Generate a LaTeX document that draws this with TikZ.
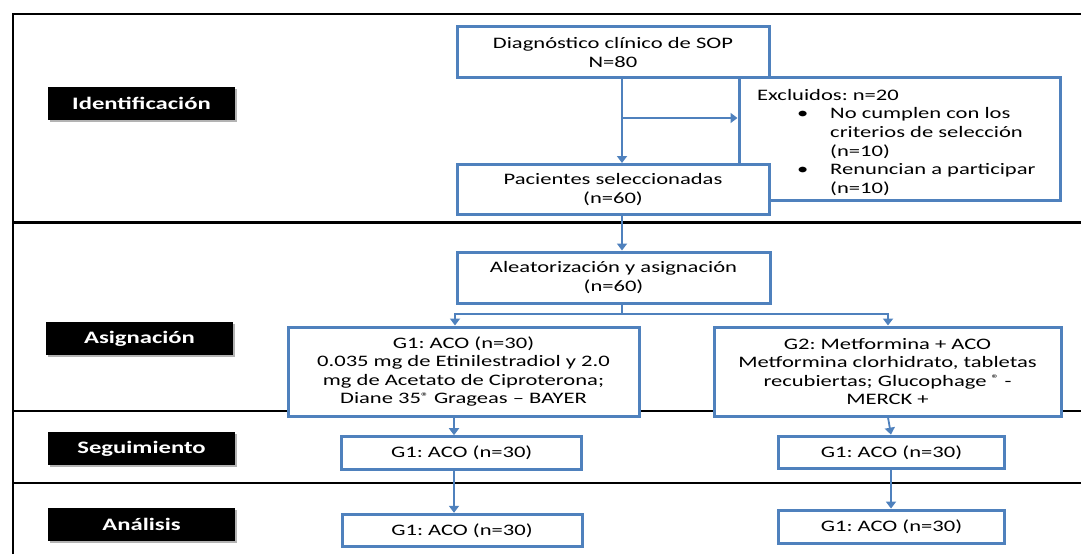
\documentclass[tikz,border=0pt]{standalone}
\usepackage{fontspec}
\setmainfont{Carlito}[FakeStretch=1.41]
\usetikzlibrary{arrows.meta,shadows}
\definecolor{obl}{RGB}{79,129,189}
\newcommand{\boxfont}{\fontsize{16}{18.6}\selectfont}
\newcommand{\labfont}{\fontsize{17.5}{19}\selectfont\bfseries}
\newcommand{\regmark}{\raisebox{0.5ex}{\fontsize{11}{11}\selectfont ®}}
\frenchspacing
\begin{document}
\begin{tikzpicture}[x=1pt,y=-1pt,
  bbox/.style={draw=obl, line width=3pt, fill=white, inner sep=0pt, align=center, font=\boxfont},
  conn/.style={draw=obl, line width=1.8pt},
  arr/.style={conn, -{Triangle[width=10pt,length=7pt]}},
  sep/.style={line width=2.5pt, black},
  lab/.style={fill=black, text=white, minimum width=187pt, minimum height=33pt, inner sep=0pt, font=\labfont,
    drop shadow={fill=gray, opacity=0.6, shadow xshift=2pt, shadow yshift=-2pt}}
]
\useasboundingbox (0,0) rectangle (1081,554);
% frame and separators
\draw[sep] (13,554) -- (13,14) -- (1081,14);
\draw[line width=3pt] (13,222) -- (1081,222);
\draw[line width=2pt] (13,411) -- (1081,411);
\draw[sep] (13,483) -- (1081,483);
% phase labels
\node[lab] (lid) at (141.5,103.5) {Identificación};
\node[lab] (las) at (139.5,338.5) {Asignación};
\node[lab] (lse) at (141.5,448.5) {Seguimiento};
\node[lab] (lan) at (141.5,524.5) {Análisis};
% boxes
\node[bbox, minimum width=321pt, minimum height=123pt] (exc) at (899.5,138.5) {};
\node[anchor=north west, align=left, inner sep=0pt, font=\boxfont] (exct) at (757,89) {Excluidos: n=20\\
\hspace*{40pt}\makebox[33pt][l]{\textbullet}No cumplen con los\\
\hspace*{73pt}criterios de selección\\
\hspace*{73pt}(n=10)\\
\hspace*{40pt}\makebox[33pt][l]{\textbullet}Renuncian a participar\\
\hspace*{73pt}(n=10)};
\node[bbox, minimum width=312pt, minimum height=50.7pt] (diag) at (613,52.3) {Diagnóstico clínico de SOP\\N=80};
\node[bbox, minimum width=312pt, minimum height=50pt] (pac) at (613,189.5) {Pacientes seleccionadas\\(n=60)};
\node[bbox, minimum width=313pt, minimum height=51pt] (ale) at (613.5,277.5) {Aleatorización y asignación\\(n=60)};
\node[bbox, minimum width=351pt, minimum height=89pt] (g1) at (463.5,371.5) {G1: ACO (n=30)\\0.035 mg de Etinilestradiol y 2.0\\mg de Acetato de Ciproterona;\\Diane 35\regmark{} Grageas -- BAYER};
\node[bbox, minimum width=347pt, minimum height=89pt] (g2) at (887.5,371.5) {G2: Metformina + ACO\\Metformina clorhidrato, tabletas\\recubiertas; Glucophage \regmark{} -\\MERCK +};
\node[bbox, minimum width=240pt, minimum height=32.6pt] (g1f) at (461.7,453) {G1: ACO (n=30)};
\node[bbox, minimum width=225.6pt, minimum height=32.7pt] (g2f) at (891.5,452.5) {G1: ACO (n=30)};
\node[bbox, minimum width=240pt, minimum height=32.4pt] (g1a) at (462,530.5) {G1: ACO (n=30)};
\node[bbox, minimum width=225.6pt, minimum height=33.3pt] (g2a) at (891.5,526.7) {G1: ACO (n=30)};
% connectors
\coordinate (cx) at (622,0);
\coordinate (br) at (622,118);
\coordinate (split) at (622,314);
\coordinate (b1) at (455,314);
\coordinate (b2) at (888,314);
\coordinate (c1) at (454,0);
\coordinate (c2) at (891,0);
\draw[arr] (diag.south -| cx) -- (pac.north -| cx);
\draw[arr] (br) -- (br -| exc.west);
\draw[arr] (pac.south -| cx) -- (ale.north -| cx);
\draw[conn] (ale.south -| cx) -- (split);
\draw[arr] (split) -| (b1 |- g1.north);
\draw[arr] (split) -| (b2 |- g2.north);
\draw[arr] (g1.south -| c1) -- (g1f.north -| c1);
\draw[arr] (g1f.south -| c1) -- (g1a.north -| c1);
\draw[arr] (g2.south -| b2) -- (g2f.north -| c2);
\draw[arr] (g2f.south -| c2) -- (g2a.north -| c2);
\end{tikzpicture}
\end{document}
